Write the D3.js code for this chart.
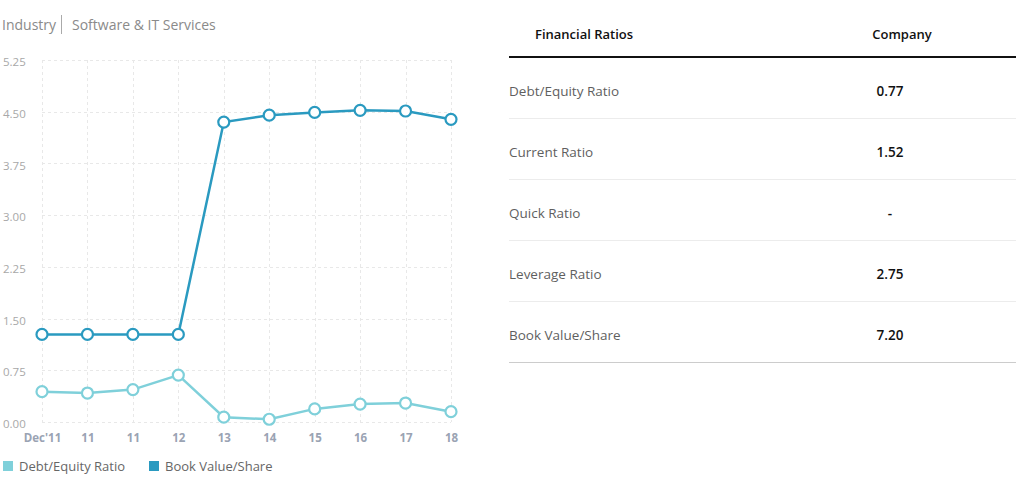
<!DOCTYPE html>
<html>
    <head>
        <script src="https://d3js.org/d3.v7.min.js"></script>
        <style>
            body { margin: 0; background: #fff; font-family: "Open Sans", "Noto Sans", sans-serif; }
            svg { display: block; }
        </style>
    </head>
    <body>
        <svg width="1024" height="486"></svg>

        <script>
            // data
            const periods = ["Dec'11", "11", "11", "12", "13", "14", "15", "16", "17", "18"];
            const debtEquity = [0.44, 0.42, 0.47, 0.68, 0.07, 0.04, 0.19, 0.26, 0.275, 0.15];
            const bookValue = [1.27, 1.27, 1.27, 1.27, 4.35, 4.45, 4.49, 4.52, 4.51, 4.39];
            const yTicks = [0, 0.75, 1.5, 2.25, 3, 3.75, 4.5, 5.25];

            const ratioNames = ["Debt/Equity Ratio", "Current Ratio", "Quick Ratio", "Leverage Ratio", "Book Value/Share"];
            const ratioValues = ["0.77", "1.52", "-", "2.75", "7.20"];

            const seriesNames = ["Debt/Equity Ratio", "Book Value/Share"];
            const seriesColors = ["#7fd0da", "#2a9ac0"];

            const svg = d3.select("svg");

            // header
            const head = svg.append("g").attr("font-size", 14).attr("fill", "#8a8a8a");
            head.append("text").attr("x", 2).attr("y", 30).text("Industry");
            head.append("line").attr("x1", 61.5).attr("x2", 61.5).attr("y1", 15).attr("y2", 34)
                .attr("stroke", "#aaa");
            head.append("text").attr("x", 72).attr("y", 30).text("Software & IT Services");

            // scales
            const x = d3.scaleLinear().domain([0, periods.length - 1]).range([42, 451]);
            const y = d3.scaleLinear().domain([0, 5.25]).range([422, 60]);

            // grid
            const grid = svg.append("g").attr("stroke", "#e8e8e8").attr("stroke-dasharray", "3,3");
            grid.selectAll(".h").data(yTicks).join("line")
                .attr("x1", x(0)).attr("x2", x(periods.length - 1))
                .attr("y1", d => Math.round(y(d)) + 0.5).attr("y2", d => Math.round(y(d)) + 0.5);
            grid.selectAll(".v").data(d3.range(periods.length)).join("line")
                .attr("x1", d => Math.round(x(d)) + 0.5).attr("x2", d => Math.round(x(d)) + 0.5)
                .attr("y1", y(5.25)).attr("y2", y(0));

            // y axis
            const yAxis = svg.append("g")
                .attr("transform", "translate(24,0)")
                .call(d3.axisLeft(y).tickValues(yTicks).tickFormat(d3.format(".2f")).tickSize(0));
            yAxis.select(".domain").remove();
            yAxis.selectAll("text")
                .attr("x", -21).attr("y", 2).attr("text-anchor", "start")
                .attr("fill", "#a8a8a8").attr("font-size", 11.5)
                .attr("font-family", "'Open Sans', sans-serif");

            // x axis
            const xAxis = svg.append("g")
                .attr("transform", `translate(0,${y(0)})`)
                .call(d3.axisBottom(x).tickValues(d3.range(periods.length)).tickFormat(i => periods[i]).tickSize(0));
            xAxis.select(".domain").remove();
            xAxis.selectAll("text")
                .attr("dy", "1.45em")
                .attr("fill", "#9aa3b3").attr("font-size", 11.5).attr("font-weight", "bold")
                .attr("font-family", "'Open Sans', sans-serif");

            // lines + points
            const line = d3.line().x((d, i) => x(i)).y(d => y(d));
            [debtEquity, bookValue].forEach((vals, k) => {
                const g = svg.append("g");
                g.append("path").datum(vals)
                    .attr("d", line)
                    .attr("fill", "none")
                    .attr("stroke", seriesColors[k])
                    .attr("stroke-width", 2.5);
                g.selectAll("circle").data(vals).join("circle")
                    .attr("cx", (d, i) => x(i))
                    .attr("cy", d => y(d))
                    .attr("r", 5.5)
                    .attr("fill", "#fff")
                    .attr("stroke", seriesColors[k])
                    .attr("stroke-width", 2.2);
            });

            // legend
            const legendX = [3, 149];
            const legend = svg.append("g");
            seriesNames.forEach((name, k) => {
                legend.append("rect").attr("x", legendX[k]).attr("y", 461)
                    .attr("width", 10).attr("height", 10).attr("fill", seriesColors[k]);
                legend.append("text").attr("x", legendX[k] + 16).attr("y", 471)
                    .attr("font-size", 13).attr("fill", "#666").text(name);
            });

            // table
            const tX0 = 509, tX1 = 1016, valX = 890;
            const table = svg.append("g");
            table.append("text").attr("x", 535).attr("y", 39)
                .attr("font-size", 13).attr("font-weight", 600).attr("fill", "#111").text("Financial Ratios");
            table.append("text").attr("x", 902).attr("y", 39).attr("text-anchor", "middle")
                .attr("font-size", 13).attr("font-weight", 600).attr("fill", "#111").text("Company");
            table.append("line").attr("x1", tX0).attr("x2", tX1).attr("y1", 57).attr("y2", 57)
                .attr("stroke", "#111").attr("stroke-width", 2);

            const rowY = d3.scaleBand().domain(d3.range(ratioNames.length)).range([58, 363]);
            ratioNames.forEach((name, i) => {
                const top = rowY(i);
                const ty = top + rowY.bandwidth() / 2 + 7;
                table.append("text").attr("x", tX0).attr("y", ty)
                    .attr("font-size", 13.5).attr("font-weight", 500).attr("fill", "#5f5f5f").text(name);
                table.append("text").attr("x", valX).attr("y", ty)
                    .attr("text-anchor", "middle")
                    .attr("font-size", 13.5).attr("font-weight", 600).attr("fill", "#111").text(ratioValues[i]);
                const last = i === ratioNames.length - 1;
                table.append("line").attr("x1", tX0).attr("x2", tX1)
                    .attr("y1", top + rowY.bandwidth() - 0.5).attr("y2", top + rowY.bandwidth() - 0.5)
                    .attr("stroke", last ? "#ccc" : "#ececec");
            });
        </script>
    </body>
</html>
